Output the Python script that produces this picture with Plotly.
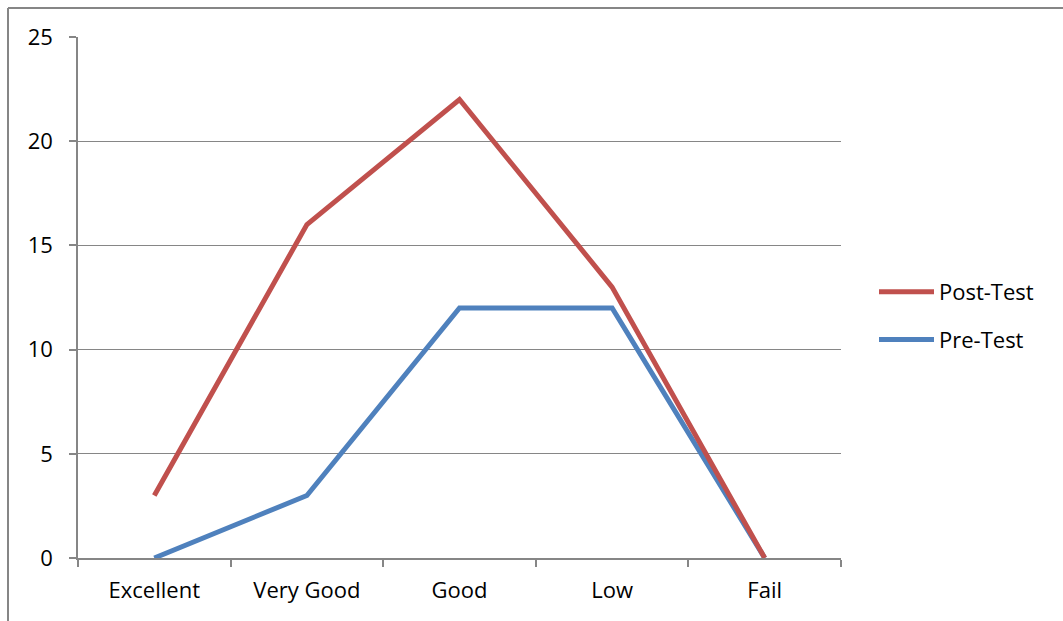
import plotly.graph_objects as go

categories = ["Excellent", "Very Good", "Good", "Low", "Fail"]
post_test = [3, 16, 22, 13, 0]
pre_test = [0, 3, 12, 12, 0]
y_ticks = [0, 5, 10, 15, 20, 25]

W, H = 1063, 621
L, R, T, B = 78, 841, 37, 558

fig = go.Figure()
fig.add_trace(go.Scatter(x=categories, y=pre_test, name="Pre-Test", mode="lines",
                         line=dict(color="#4F81BD", width=5), legendrank=2,
                         legendgroup="b"))
fig.add_trace(go.Scatter(x=categories, y=post_test, name="Post-Test", mode="lines",
                         line=dict(color="#C0504D", width=5), legendrank=1,
                         legendgroup="a"))

pw, ph = R - L, B - T
def px(x):
    return (x - L) / pw
def py(y):
    return (B - y) / ph

fig.update_layout(
    width=W, height=H,
    margin=dict(l=L, r=W - R, t=T, b=H - B, pad=0),
    paper_bgcolor="white", plot_bgcolor="white",
    font=dict(family="Open Sans, sans-serif", size=22, color="black"),
    showlegend=True,
    legend=dict(x=px(874), y=py(271), xanchor="left", yanchor="top",
                font=dict(size=22), itemwidth=55, tracegroupgap=16,
                traceorder="grouped", bgcolor="rgba(0,0,0,0)"),
    xaxis=dict(type="category", range=[-0.5, 4.5], showgrid=False,
               showline=True, linecolor="#868686", linewidth=1.5,
               ticks="outside", tickson="boundaries", ticklen=7,
               tickcolor="#868686", tickwidth=1.5, ticklabelstandoff=12,
               fixedrange=True),
    yaxis=dict(range=[0, 25], tickvals=y_ticks, showgrid=True,
               gridcolor="#868686", gridwidth=1.3, zeroline=False,
               showline=True, linecolor="#868686", linewidth=1.5,
               ticks="outside", ticklen=7, tickcolor="#868686", tickwidth=1.5,
               ticklabelstandoff=12, fixedrange=True),
    shapes=[
        dict(type="line", xref="paper", yref="paper", x0=px(8), x1=px(1070),
             y0=py(8), y1=py(8), line=dict(color="#868686", width=2)),
        dict(type="line", xref="paper", yref="paper", x0=px(8), x1=px(8),
             y0=py(8), y1=py(640), line=dict(color="#868686", width=2)),
    ],
)
fig.write_html("out.html", config={"displayModeBar": False},
               post_script="document.body.style.margin='0';document.body.style.overflow='hidden';")
